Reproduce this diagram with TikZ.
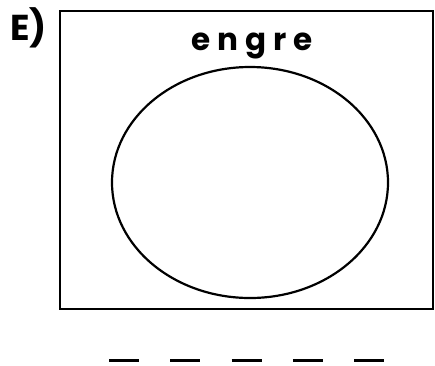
\documentclass[tikz,border=0pt]{standalone}
\usepackage{fontspec}
\setmainfont{Poppins}
\usetikzlibrary{positioning,shapes.geometric}

\begin{document}
\begin{tikzpicture}[
  x=1pt, y=-1pt,
  frame/.style={draw, line width=2.6pt, minimum width=373pt, minimum height=298pt, inner sep=0pt},
  set/.style={draw, ellipse, line width=2.2pt, minimum width=276pt, minimum height=231pt, inner sep=0pt},
  blank/.style={line width=3pt}]
  \useasboundingbox (0,0) rectangle (435,365);
  \node[frame] (box) at (246.5,160) {};
  \node[set] (venn) at (250,182.5) {};
  \node[font=\bfseries\fontsize{31}{31}\selectfont\addfontfeature{LetterSpace=22}, anchor=base] (word) at (252,50) {engre};
  \node[font=\bfseries\fontsize{36}{36}\selectfont, anchor=base west, inner sep=0pt] (tag) at (10,40) {E)};
  \foreach \i in {0,...,4}
    \draw[blank] (109+61.25*\i,360) -- ++(30,0);
\end{tikzpicture}
\end{document}
